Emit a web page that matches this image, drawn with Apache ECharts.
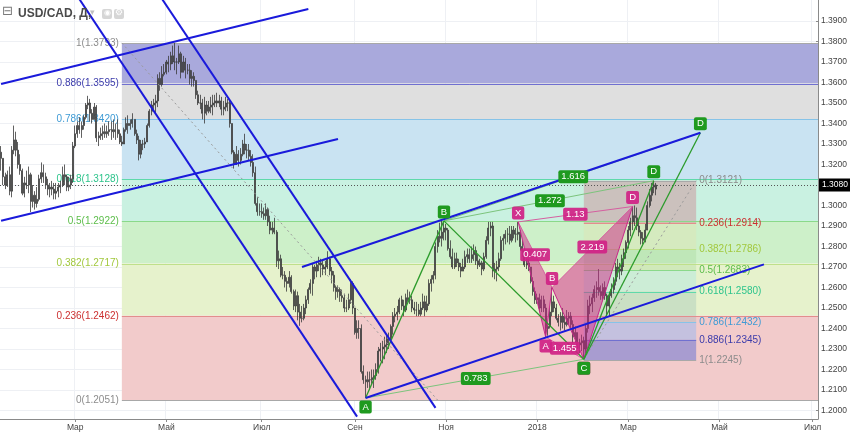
<!DOCTYPE html>
<html><head><meta charset="utf-8">
<script src="https://cdn.jsdelivr.net/npm/echarts@6/dist/echarts.min.js"></script>
<style>html,body{margin:0;padding:0;background:#fff}#c{width:850px;height:432px}</style>
</head><body><div id="c"></div>
<script>
// ---------------- DATA ----------------
const startDate = '2017-01-11';
const categoryCount = 386;               // weekday categories up to July 2018
const monthNames = ['Янв','Фев','Мар','Апр','Май','Июн','Июл','Авг','Сен','Окт','Ноя','Дек'];
const labeledMonths = [0,2,4,6,8,10];
const yTickMin = 1.20, yTickMax = 1.39, yTickStep = 0.01;

const firstOpen = 1.3260;
const highs = [
1.3290,1.3230,1.3160,1.3170,1.3190,1.3290,1.3390,1.3360,1.3310,1.3250,1.3180,1.3140,1.3170,1.3190,1.3160,
1.3100,1.3070,1.3090,1.3150,1.3210,1.3200,1.3160,1.3130,1.3110,1.3120,1.3110,1.3110,1.3110,1.3120,1.3190,1.3200,1.3150,1.3140,1.3150,1.3310,
1.3390,1.3410,1.3430,1.3410,1.3440,1.3500,1.3535,1.3520,1.3470,1.3500,1.3490,1.3360,1.3380,1.3390,1.3400,1.3390,1.3410,1.3410,1.3420,1.3400,1.3420,1.3370,1.3340,
1.3380,1.3430,1.3440,1.3420,1.3450,1.3420,1.3370,1.3340,1.3320,1.3320,1.3330,1.3400,1.3470,1.3510,1.3520,1.3540,1.3640,1.3650,1.3680,1.3690,
1.3710,1.3730,1.3750,1.3780,1.3793,1.3720,1.3780,1.3750,1.3730,1.3720,1.3690,1.3690,1.3660,1.3650,1.3610,1.3560,1.3540,1.3520,1.3530,1.3510,1.3510,1.3530,1.3540,
1.3540,1.3550,1.3540,1.3530,1.3510,1.3530,1.3520,1.3510,1.3400,1.3270,1.3290,1.3270,1.3280,1.3320,1.3350,1.3300,1.3300,1.3270,1.3250,1.3190,1.3040,1.3010,
1.3010,1.2990,1.3010,1.2990,1.2950,1.2920,1.2940,1.2880,1.2780,1.2760,1.2700,1.2680,1.2650,1.2680,1.2660,1.2590,1.2590,1.2580,1.2520,1.2510,1.2520,
1.2560,1.2600,1.2640,1.2720,1.2710,1.2730,1.2750,1.2740,1.2730,1.2730,1.2777,1.2750,1.2700,1.2680,1.2610,1.2610,1.2600,1.2590,1.2570,1.2540,1.2570,1.2640,1.2630,
1.2500,1.2440,1.2440,1.2420,1.2220,1.2170,1.2190,1.2190,1.2200,1.2200,1.2230,1.2310,1.2330,1.2340,1.2360,1.2370,1.2380,1.2420,1.2480,1.2500,1.2510,
1.2550,1.2560,1.2540,1.2570,1.2590,1.2580,1.2560,1.2530,1.2530,1.2520,1.2530,1.2570,1.2560,1.2560,1.2640,1.2660,1.2680,1.2820,1.2880,1.2916,1.2925,1.2915,
1.2910,1.2890,1.2830,1.2790,1.2770,1.2770,1.2740,1.2720,1.2740,1.2780,1.2790,1.2790,1.2800,1.2810,1.2800,1.2760,1.2740,1.2730,1.2770,1.2850,1.2920,1.2920,
1.2920,1.2720,1.2730,1.2770,1.2850,1.2860,1.2880,1.2890,1.2900,1.2900,1.2900,1.2890,1.2920,1.2880,1.2830,1.2790,1.2740,1.2740,1.2700,1.2650,1.2600,
1.2570,1.2570,1.2560,1.2560,1.2520,1.2420,1.2500,1.2600,1.2560,1.2520,1.2470,1.2480,1.2500,1.2460,1.2490,1.2480,1.2480,1.2440,1.2410,1.2380,1.2350,1.2370,1.2360,
1.2420,1.2540,1.2560,1.2570,1.2610,1.2630,1.2690,1.2610,1.2620,1.2630,1.2570,1.2580,1.2620,1.2650,1.2720,1.2740,1.2720,1.2760,1.2790,1.2830,
1.2900,1.2940,1.2995,1.3000,1.2990,1.2930,1.2880,1.2870,1.2910,1.3020,1.3080,1.3110,1.3121,1.3110
];
const lows = [
1.3170,1.3100,1.3080,1.3090,1.3050,1.3040,1.3250,1.3240,1.3180,1.3150,1.3050,1.3040,1.3080,1.3060,1.2968,
1.2990,1.2980,1.2990,1.3020,1.3110,1.3110,1.3080,1.3050,1.3040,1.3050,1.3030,1.3030,1.3040,1.3060,1.3090,1.3100,1.3070,1.3070,1.3080,1.3110,
1.3280,1.3330,1.3350,1.3330,1.3370,1.3420,1.3470,1.3410,1.3400,1.3420,1.3310,1.3290,1.3320,1.3320,1.3330,1.3330,1.3340,1.3320,1.3330,1.3320,1.3330,1.3300,1.3290,
1.3300,1.3360,1.3350,1.3370,1.3380,1.3340,1.3300,1.3220,1.3230,1.3270,1.3280,1.3310,1.3380,1.3440,1.3460,1.3450,1.3480,1.3560,1.3580,1.3630,
1.3640,1.3650,1.3660,1.3690,1.3660,1.3640,1.3690,1.3620,1.3650,1.3620,1.3640,1.3590,1.3580,1.3580,1.3520,1.3490,1.3470,1.3420,1.3400,1.3440,1.3450,1.3450,1.3440,
1.3480,1.3480,1.3480,1.3440,1.3440,1.3460,1.3460,1.3380,1.3250,1.3180,1.3210,1.3190,1.3200,1.3240,1.3250,1.3230,1.3220,1.3190,1.3140,1.3000,1.2950,1.2950,
1.2940,1.2930,1.2930,1.2900,1.2860,1.2860,1.2860,1.2700,1.2690,1.2650,1.2640,1.2600,1.2580,1.2600,1.2570,1.2490,1.2480,1.2440,1.2413,1.2430,1.2440,
1.2470,1.2520,1.2570,1.2560,1.2640,1.2650,1.2680,1.2650,1.2660,1.2660,1.2690,1.2660,1.2620,1.2580,1.2540,1.2550,1.2530,1.2530,1.2480,1.2480,1.2490,1.2520,1.2470,
1.2370,1.2350,1.2350,1.2180,1.2130,1.2061,1.2110,1.2110,1.2130,1.2110,1.2150,1.2180,1.2240,1.2230,1.2250,1.2280,1.2300,1.2330,1.2370,1.2430,1.2440,
1.2470,1.2490,1.2460,1.2480,1.2530,1.2520,1.2480,1.2470,1.2460,1.2460,1.2460,1.2490,1.2460,1.2480,1.2510,1.2580,1.2620,1.2640,1.2770,1.2820,1.2800,1.2830,
1.2830,1.2780,1.2740,1.2690,1.2690,1.2700,1.2680,1.2650,1.2680,1.2690,1.2720,1.2720,1.2720,1.2730,1.2710,1.2690,1.2700,1.2660,1.2680,1.2740,1.2810,1.2850,
1.2650,1.2640,1.2630,1.2680,1.2730,1.2780,1.2810,1.2820,1.2810,1.2820,1.2840,1.2820,1.2830,1.2780,1.2750,1.2700,1.2690,1.2680,1.2620,1.2560,1.2520,
1.2520,1.2480,1.2480,1.2480,1.2358,1.2365,1.2400,1.2460,1.2480,1.2440,1.2410,1.2390,1.2400,1.2390,1.2410,1.2420,1.2400,1.2330,1.2330,1.2300,1.2280,1.2290,1.2250,
1.2280,1.2380,1.2470,1.2480,1.2530,1.2550,1.2560,1.2540,1.2540,1.2540,1.2460,1.2460,1.2550,1.2570,1.2610,1.2650,1.2640,1.2660,1.2700,1.2740,
1.2790,1.2850,1.2880,1.2900,1.2880,1.2850,1.2810,1.2810,1.2820,1.2880,1.2990,1.3020,1.3060,1.3050
];
const closes = [
1.3230,1.3140,1.3100,1.3150,1.3070,1.3270,1.3320,1.3270,1.3200,1.3170,1.3060,1.3110,1.3100,1.3150,1.3020,
1.3050,1.3010,1.3030,1.3130,1.3160,1.3140,1.3100,1.3080,1.3090,1.3080,1.3060,1.3070,1.3090,1.3100,1.3150,1.3140,1.3090,1.3100,1.3130,1.3290,
1.3350,1.3390,1.3370,1.3390,1.3430,1.3490,1.3500,1.3450,1.3420,1.3480,1.3330,1.3340,1.3350,1.3360,1.3350,1.3360,1.3370,1.3370,1.3360,1.3370,1.3350,1.3310,1.3300,
1.3370,1.3400,1.3390,1.3400,1.3420,1.3350,1.3320,1.3250,1.3300,1.3300,1.3310,1.3390,1.3460,1.3490,1.3500,1.3510,1.3620,1.3590,1.3640,1.3650,
1.3700,1.3690,1.3730,1.3700,1.3700,1.3700,1.3740,1.3650,1.3700,1.3660,1.3660,1.3620,1.3630,1.3610,1.3540,1.3500,1.3500,1.3450,1.3490,1.3460,1.3480,1.3490,1.3500,
1.3510,1.3500,1.3510,1.3470,1.3480,1.3500,1.3500,1.3400,1.3260,1.3200,1.3250,1.3220,1.3250,1.3300,1.3270,1.3270,1.3240,1.3210,1.3160,1.3010,1.2970,1.2970,
1.2960,1.2950,1.2980,1.2920,1.2880,1.2890,1.2870,1.2730,1.2740,1.2660,1.2660,1.2630,1.2620,1.2650,1.2580,1.2510,1.2560,1.2480,1.2450,1.2450,1.2500,
1.2540,1.2590,1.2620,1.2700,1.2680,1.2710,1.2720,1.2710,1.2690,1.2700,1.2740,1.2680,1.2660,1.2600,1.2580,1.2590,1.2560,1.2550,1.2500,1.2500,1.2540,1.2620,1.2500,
1.2380,1.2400,1.2400,1.2190,1.2150,1.2140,1.2150,1.2150,1.2160,1.2170,1.2200,1.2290,1.2300,1.2310,1.2320,1.2350,1.2350,1.2410,1.2460,1.2470,1.2480,
1.2540,1.2510,1.2490,1.2550,1.2540,1.2540,1.2500,1.2490,1.2490,1.2470,1.2500,1.2530,1.2490,1.2520,1.2620,1.2640,1.2660,1.2800,1.2850,1.2840,1.2870,1.2890,
1.2880,1.2790,1.2750,1.2700,1.2740,1.2720,1.2700,1.2680,1.2700,1.2750,1.2760,1.2740,1.2760,1.2780,1.2730,1.2710,1.2720,1.2690,1.2750,1.2830,1.2890,1.2900,
1.2680,1.2690,1.2700,1.2740,1.2830,1.2840,1.2860,1.2860,1.2830,1.2880,1.2860,1.2860,1.2870,1.2800,1.2780,1.2710,1.2720,1.2700,1.2630,1.2580,1.2540,
1.2550,1.2500,1.2540,1.2500,1.2400,1.2410,1.2480,1.2530,1.2500,1.2450,1.2430,1.2460,1.2430,1.2420,1.2450,1.2460,1.2420,1.2360,1.2380,1.2320,1.2330,1.2340,1.2300,
1.2400,1.2510,1.2520,1.2550,1.2590,1.2600,1.2580,1.2560,1.2600,1.2560,1.2510,1.2560,1.2590,1.2630,1.2700,1.2690,1.2680,1.2740,1.2770,1.2820,
1.2880,1.2920,1.2950,1.2940,1.2900,1.2870,1.2840,1.2830,1.2880,1.3000,1.3050,1.3090,1.3100,1.3080
];

// Fibonacci retracements
const leftFibStartIdx = 57;
const leftFibRatios = ['1','0.886','0.786','0.618','0.5','0.382','0.236','0'];
const leftFibPrices = [1.3793,1.3595,1.3420,1.3128,1.2922,1.2717,1.2462,1.2051];
const rightFibStartIdx = 275, rightFibEndIdx = 328;
const rightFibRatios = ['0','0.236','0.382','0.5','0.618','0.786','0.886','1'];
const rightFibPrices = [1.3121,1.2914,1.2786,1.2683,1.2580,1.2432,1.2345,1.2245];

// Harmonic patterns
const greenNames = ['A','B','C','D','D'];
const greenIdx = [172,209,275,308,330];
const greenPrices = [1.2061,1.2925,1.2250,1.3121,1.3355];
const greenRatioText = ['0.783','1.272','1.616'];
const greenRatioPairs = [[0,2],[1,3],[1,4]];
const greenLegs = [[0,1],[1,2],[2,3],[2,4]];
const pinkNames = ['X','A','B','C','D'];
const pinkIdx = [244,257,260,275,298];
const pinkPrices = [1.2920,1.2358,1.2600,1.2250,1.2995];
const pinkRatioText = ['0.407','1.13','2.219','1.455'];
const pinkRatioPairs = [[0,2],[0,4],[2,4],[1,3]];
const pinkLegs = [[0,1],[1,2],[2,3],[3,4]];
const pinkTriangles = [[0,1,2],[2,3,4]];

// Trend channels [idx0, price0, idx1, price1]
const channelLines = [
  [0,1.3593,145,1.3959],
  [0,1.2926,159,1.3324],
  [37,1.4006,168,1.1970],
  [76,1.4007,205,1.2013],
  [142,1.2700,330,1.3355],
  [172,1.2061,360,1.2713]
];
const fibTrendLines = [
  [57,1.3793,206,1.2051],
  [275,1.2250,328,1.3121]
];

// ---------------- STYLES ----------------
const FONT = '"Liberation Sans", Arial, sans-serif';
const leftZoneColors = ['#a9a9dc','#dfdfdf','#c9e3f2','#c9f1e1','#cdf0c9','#e6f2cc','#f2cbcb'];
const rightZoneColors = ['rgba(207,122,135,0.4)','rgba(232,223,170,0.3)','rgba(158,213,147,0.3)','rgba(147,226,240,0.3)','rgba(120,170,170,0.25)','rgba(127,177,252,0.4)','rgba(94,110,214,0.5)'];
const levelLineColor = {'1':'#a8a8a8','0.886':'#7070d0','0.786':'#86c3e8','0.618':'#5fd9aa','0.5':'#8ad98a','0.382':'#bfe08a','0.236':'#e38d8d','0':'#a8a8a8'};
const levelTextColor = {'1':'#8c8c8c','0.886':'#3b3bab','0.786':'#3f9bd5','0.618':'#2ec48c','0.5':'#5cbd4a','0.382':'#a2c83e','0.236':'#cc3030','0':'#8c8c8c'};
const greenSide = ['below','above','below','above','above'];
const pinkSide = ['above','below','above','below','above'];
const GREEN_BOX = '#1f9a1f', PINK_BOX = 'rgba(208,34,134,0.92)';

// ---------------- BUILD ----------------
const dates = [];
{
  const d = new Date(startDate + 'T00:00:00Z');
  while (dates.length < categoryCount) {
    const wd = d.getUTCDay();
    if (wd !== 0 && wd !== 6) dates.push(d.toISOString().slice(0,10));
    d.setUTCDate(d.getUTCDate() + 1);
  }
}
const monthOf = s => +s.slice(5,7) - 1;
function isLabelCat(index) {
  if (index === 0) return false;
  const m = monthOf(dates[index]);
  return m !== monthOf(dates[index-1]) && labeledMonths.indexOf(m) >= 0;
}
const ohlc = closes.map((c,i) => [i === 0 ? firstOpen : closes[i-1], c, lows[i], highs[i]]);
const lastClose = closes[closes.length - 1];

// main grid price range (maps top edge / x-axis line)
const mainMax = 1.390 + 21/2050, mainMin = 1.390 - 398/2050;

// zones
const zones = [];
for (let i = 0; i < leftFibPrices.length - 1; i++)
  zones.push({x0:leftFibStartIdx, x1:categoryCount-1, top:leftFibPrices[i], bot:leftFibPrices[i+1], color:leftZoneColors[i], edge:true});
for (let i = 0; i < rightFibPrices.length - 1; i++)
  zones.push({x0:rightFibStartIdx, x1:rightFibEndIdx, top:rightFibPrices[i], bot:rightFibPrices[i+1], color:rightZoneColors[i], edge:false});

const levels = [];
leftFibPrices.forEach((p,i) => levels.push({x0:leftFibStartIdx, x1:categoryCount-1, p, r:leftFibRatios[i], edge:true, side:'left'}));
rightFibPrices.forEach((p,i) => levels.push({x0:rightFibStartIdx, x1:rightFibEndIdx, p, r:rightFibRatios[i], edge:false, side:'right'}));

const boxLabels = [];
function addPattern(names, idx, prices, sides, ratioText, ratioPairs, bg) {
  ratioText.forEach((t,k) => {
    const [a,b] = ratioPairs[k];
    boxLabels.push({x:Math.round((idx[a]+idx[b])/2), y:(prices[a]+prices[b])/2, text:t, bg, dy:0});
  });
  names.forEach((n,k) => boxLabels.push({x:idx[k], y:prices[k], text:n, bg, dy: sides[k]==='above' ? -9 : 9}));
}
addPattern(pinkNames, pinkIdx, pinkPrices, pinkSide, pinkRatioText, pinkRatioPairs, PINK_BOX);
addPattern(greenNames, greenIdx, greenPrices, greenSide, greenRatioText, greenRatioPairs, GREEN_BOX);

function seg(arr, color, width, type, z) {
  return {type:'line', xAxisIndex:0, yAxisIndex:0, data:[[arr[0],arr[1]],[arr[2],arr[3]]],
    symbol:'none', silent:true, z, animation:false,
    lineStyle:{color, width, type: type || 'solid'}};
}
const lineSeries = [];
fibTrendLines.forEach(l => lineSeries.push(seg(l, '#9a9a9a', 1, [2,3], 4)));
pinkRatioPairs.forEach(([a,b]) => lineSeries.push(seg([pinkIdx[a],pinkPrices[a],pinkIdx[b],pinkPrices[b]], '#d55fa0', 1, 'solid', 6)));
pinkLegs.forEach(([a,b]) => lineSeries.push(seg([pinkIdx[a],pinkPrices[a],pinkIdx[b],pinkPrices[b]], '#c8288a', 1, 'solid', 6)));
greenRatioPairs.forEach(([a,b]) => lineSeries.push(seg([greenIdx[a],greenPrices[a],greenIdx[b],greenPrices[b]], '#7cc47c', 1, 'solid', 6)));
greenLegs.forEach(([a,b]) => lineSeries.push(seg([greenIdx[a],greenPrices[a],greenIdx[b],greenPrices[b]], '#2b9b2b', 1.3, 'solid', 6)));
channelLines.forEach(l => lineSeries.push(seg(l, '#1a1adb', 2, 'solid', 7)));

const chart = echarts.init(document.getElementById('c'), null, {renderer:'canvas'});
chart.setOption({
  animation:false,
  backgroundColor:'#ffffff',
  grid:[
    {left:0, right:32, top:0, bottom:13},
    {left:0, right:32, top:21, bottom:21.5}
  ],
  xAxis:[
    {gridIndex:0, type:'category', data:dates, boundaryGap:true,
     axisLine:{show:true, onZero:false, lineStyle:{color:'#8a8a8a'}},
     axisTick:{show:true, alignWithLabel:true, interval:isLabelCat, length:3, lineStyle:{color:'#8a8a8a'}},
     axisLabel:{interval:isLabelCat, margin:4, fontSize:8.5, color:'#444', fontFamily:FONT,
       formatter:(v) => monthOf(v) === 0 ? v.slice(0,4) : monthNames[monthOf(v)]},
     splitLine:{show:true, interval:isLabelCat, lineStyle:{color:'#eef0f4'}}},
    {gridIndex:1, type:'value', show:false, min:0, max:1, axisLine:{onZero:false}}
  ],
  yAxis:[
    {gridIndex:0, type:'value', min:mainMin, max:mainMax, position:'right',
     axisLine:{show:true, onZero:false, lineStyle:{color:'#8a8a8a'}}, axisTick:{show:false}, axisLabel:{show:false}, splitLine:{show:false}},
    {gridIndex:1, type:'value', min:yTickMin, max:yTickMax, interval:yTickStep, position:'right',
     axisLine:{show:false, onZero:false}, axisTick:{show:true, length:3, lineStyle:{color:'#8a8a8a'}},
     axisLabel:{margin:5, fontSize:8.5, color:'#444', fontFamily:FONT, formatter:v => v.toFixed(4)},
     splitLine:{show:true, lineStyle:{color:'#eef0f4'}}}
  ],
  graphic:[
    {type:'text', left:2, top:5, z:100, style:{text:'⊟', font:'13px "DejaVu Sans"', fill:'#7a7a7a'}},
    {type:'text', left:18, top:8, z:100, style:{text:'USD/CAD, Д,', font:'bold 12px ' + FONT, fill:'#4a4a4a'}},
    {type:'text', left:90, top:8, z:100, style:{text:'▾', font:'9px "DejaVu Sans"', fill:'#c0c0c0'}},
    {type:'rect', left:102, top:9, z:100, shape:{width:10, height:10, r:2}, style:{fill:'#d6d6d6'}},
    {type:'text', left:104, top:9, z:101, style:{text:'◉', font:'8px "DejaVu Sans"', fill:'#ffffff'}},
    {type:'rect', left:114, top:9, z:100, shape:{width:10, height:10, r:2}, style:{fill:'#d6d6d6'}},
    {type:'text', left:115, top:8, z:101, style:{text:'⚙', font:'9px "DejaVu Sans"', fill:'#ffffff'}}
  ],
  series:[
    {type:'custom', name:'fibZones', xAxisIndex:0, yAxisIndex:0, z:1, silent:true,
     data:zones.map(z => [z.x0, z.top, z.x1, z.bot]),
     renderItem:(params, api) => {
       const zn = zones[params.dataIndex];
       const p1 = api.coord([api.value(0), api.value(1)]);
       const p2 = api.coord([api.value(2), api.value(3)]);
       const xr = zn.edge ? params.coordSys.x + params.coordSys.width : p2[0];
       return {type:'rect', shape:{x:p1[0], y:p1[1], width:xr - p1[0], height:p2[1] - p1[1]}, style:{fill:zn.color}};
     }},
    {type:'custom', name:'fibLevels', xAxisIndex:0, yAxisIndex:0, z:2, silent:true,
     data:levels.map(l => [l.x0, l.p, l.x1]),
     renderItem:(params, api) => {
       const lv = levels[params.dataIndex];
       const p1 = api.coord([api.value(0), api.value(1)]);
       const p2 = api.coord([api.value(2), api.value(1)]);
       const xr = lv.edge ? params.coordSys.x + params.coordSys.width : p2[0];
       const txt = lv.r + '(' + lv.p.toFixed(4) + ')';
       const y = Math.round(p1[1]) + 0.5;
       return {type:'group', children:[
         {type:'line', shape:{x1:p1[0], y1:y, x2:xr, y2:y}, style:{stroke:levelLineColor[lv.r], lineWidth:1}},
         {type:'text', style:{text:txt, x: lv.side === 'left' ? p1[0] - 3 : p2[0] + 3, y:p1[1],
           align: lv.side === 'left' ? 'right' : 'left', verticalAlign:'middle',
           fill:levelTextColor[lv.r], font:'10px ' + FONT}, z2:20}
       ]};
     }},
    {type:'candlestick', name:'USD/CAD', xAxisIndex:0, yAxisIndex:0, z:3, data:ohlc, barWidth:1.5,
     itemStyle:{color:'#6e6e6e', color0:'#6e6e6e', borderColor:'#3a3a3a', borderColor0:'#3a3a3a', borderWidth:0.8},
     markLine:{silent:true, symbol:['none','none'], animation:false,
       data:[{yAxis:lastClose}],
       lineStyle:{color:'#555', type:[1,2], width:1},
       label:{show:true, position:'end', distance:1, formatter:lastClose.toFixed(4), backgroundColor:'#000', color:'#fff',
         fontSize:8.5, fontFamily:FONT, padding:[2,4,2,3]}}},
    {type:'custom', name:'pinkFill', xAxisIndex:0, yAxisIndex:0, z:5, silent:true,
     data:pinkTriangles.map(t => [pinkIdx[t[0]], pinkPrices[t[0]], pinkIdx[t[1]], pinkPrices[t[1]], pinkIdx[t[2]], pinkPrices[t[2]]]),
     renderItem:(params, api) => {
       const pts = [0,2,4].map(k => api.coord([api.value(k), api.value(k+1)]));
       return {type:'polygon', shape:{points:pts}, style:{fill:'rgba(205,35,135,0.5)'}};
     }},
    ...lineSeries,
    {type:'custom', name:'patternLabels', xAxisIndex:0, yAxisIndex:0, z:9, silent:true,
     data:boxLabels.map(b => [b.x, b.y]),
     renderItem:(params, api) => {
       const b = boxLabels[params.dataIndex];
       const p = api.coord([api.value(0), api.value(1)]);
       return {type:'text', style:{text:b.text, x:p[0], y:p[1] + b.dy, align:'center', verticalAlign:'middle',
         fill:'#fff', font:'9.5px ' + FONT, backgroundColor:b.bg, padding:[2,3,1,3], borderRadius:2}};
     }}
  ]
});
</script>
</body></html>
